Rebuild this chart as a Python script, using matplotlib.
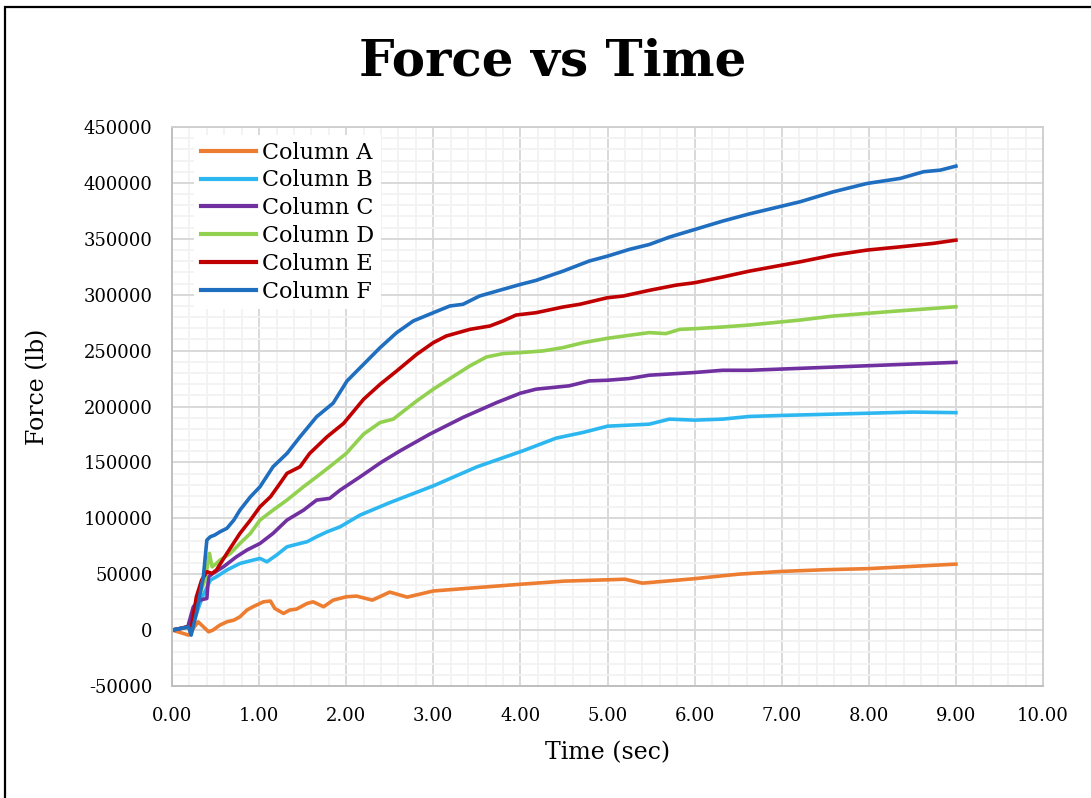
import matplotlib
matplotlib.use("Agg")
import matplotlib.pyplot as plt
from matplotlib.patches import Rectangle
from matplotlib.ticker import MultipleLocator, FormatStrFormatter

plt.rcParams['font.family'] = ['DejaVu Serif']
plt.rcParams['axes.unicode_minus'] = False

# values (time in s, force in lb)
t_a = [0, 0.13, 0.19, 0.23, 0.30, 0.36, 0.42, 0.47, 0.55, 0.63, 0.71, 0.78, 0.86, 0.93, 1.05, 1.13,
       1.18, 1.28, 1.35, 1.43, 1.55, 1.62, 1.74, 1.85, 2.00, 2.12, 2.30, 2.50, 2.70, 3.00, 3.50,
       4.00, 4.50, 5.00, 5.20, 5.40, 5.70, 6.00, 6.50, 7.00, 7.50, 8.00, 8.50, 9.00]
f_a = [0, -3000, -4500, 0, 7400, 3000, -1500, 0, 4500, 7400, 8900, 11900, 17900, 20900, 25300, 26000,
       19400, 14900, 17900, 18800, 23800, 25300, 20900, 26800, 29800, 30400, 26800, 34000, 29500, 35000, 38000,
       41000, 43800, 45000, 45500, 42000, 44000, 46000, 50000, 52500, 54000, 55000, 57000, 59000]

t_b = [0, 0.10, 0.18, 0.25, 0.35, 0.44, 0.51, 0.63, 0.78, 0.93, 1.01, 1.09, 1.20, 1.32, 1.47, 1.55,
       1.66, 1.78, 1.93, 2.16, 2.50, 3.00, 3.50, 4.03, 4.41, 4.72, 5.00, 5.48, 5.71, 6.00, 6.32,
       6.63, 7.00, 7.50, 8.00, 8.50, 9.00]
f_b = [0, 1500, 2500, 8000, 30000, 44700, 47700, 53700, 59600, 62600, 64100, 61100, 67100, 74500, 77500, 79000,
       83500, 87900, 92400, 102900, 114000, 129000, 146000, 160400, 171700, 176800, 182400, 184200, 188700, 187800, 188700,
       191100, 192000, 193000, 194000, 195000, 194500]

t_c = [0, 0.10, 0.18, 0.245, 0.32, 0.40, 0.42, 0.47, 0.59, 0.74, 0.86, 1.01, 1.16, 1.32, 1.51, 1.66,
       1.81, 1.93, 2.16, 2.40, 2.62, 2.96, 3.34, 3.73, 4.00, 4.18, 4.56, 4.79, 5.00, 5.25, 5.48,
       6.00, 6.32, 6.63, 7.00, 7.50, 8.00, 8.50, 9.00]
f_c = [0, 1500, 2500, 20900, 26800, 28300, 47700, 50700, 56600, 65600, 71600, 77500, 86500, 98400, 107300, 116300,
       117800, 125200, 137100, 150000, 160400, 175300, 190200, 203600, 211900, 215500, 218500, 222900, 223500, 225000, 228000,
       230400, 232400, 232400, 233500, 235000, 236500, 238000, 239500]

t_d = [0, 0.10, 0.18, 0.23, 0.32, 0.38, 0.43, 0.46, 0.51, 0.55, 0.67, 0.78, 0.90, 1.01, 1.16, 1.32,
       1.51, 1.66, 1.81, 2.00, 2.20, 2.39, 2.54, 2.81, 3.00, 3.27, 3.42, 3.61, 3.80, 4.00, 4.26,
       4.49, 4.72, 5.00, 5.25, 5.48, 5.67, 5.83, 6.00, 6.32, 6.63, 7.21, 7.59, 7.98, 8.36, 9.00]
f_d = [0, 1500, 2500, 0, 32800, 45000, 68600, 56600, 59600, 62600, 68600, 77500, 86500, 98400, 107300, 116300,
       128200, 137100, 146100, 158000, 175300, 185700, 188700, 205000, 215500, 228900, 236300, 244300, 247300, 248200, 249700,
       252700, 257100, 261000, 263700, 266100, 265200, 269000, 269600, 271100, 272900, 277300, 280900, 283300, 285600, 289200]

t_e = [0, 0.10, 0.17, 0.22, 0.28, 0.34, 0.40, 0.46, 0.51, 0.63, 0.78, 0.90, 1.01, 1.13, 1.24, 1.32,
       1.47, 1.58, 1.78, 1.97, 2.20, 2.39, 2.58, 2.81, 3.00, 3.15, 3.42, 3.65, 3.80, 3.95, 4.18,
       4.49, 4.68, 5.00, 5.18, 5.48, 5.79, 6.00, 6.32, 6.63, 7.21, 7.59, 7.98, 8.36, 8.74, 9.00]
f_e = [0, 1500, 3000, 1000, 29800, 44700, 52200, 50700, 53700, 68600, 86500, 98400, 110300, 119200, 131200, 140200,
       146100, 158000, 172900, 184900, 206500, 219900, 231800, 246700, 257100, 263100, 269000, 272000, 276500, 281800, 283900,
       289000, 291400, 297300, 298800, 303900, 308600, 310700, 315800, 321100, 329400, 335400, 339900, 342800, 345900, 348800]

t_f = [0, 0.10, 0.19, 0.22, 0.28, 0.36, 0.40, 0.44, 0.49, 0.55, 0.63, 0.71, 0.78, 0.90, 1.01, 1.16,
       1.32, 1.47, 1.66, 1.85, 2.01, 2.20, 2.39, 2.58, 2.77, 3.00, 3.19, 3.34, 3.53, 3.80, 4.00,
       4.18, 4.49, 4.79, 5.00, 5.25, 5.48, 5.71, 6.00, 6.32, 6.63, 7.21, 7.59, 7.98, 8.36, 8.63,
       8.82, 9.00]
f_f = [0, 1500, 3000, -4500, 14900, 47700, 80500, 83500, 85000, 87900, 91000, 98400, 107300, 119200, 128200, 146100,
       158000, 172900, 190800, 203000, 222900, 237800, 252700, 266100, 276500, 283900, 289900, 291400, 298800, 304800, 309200,
       312800, 321100, 330100, 334500, 340500, 344900, 351500, 358300, 365800, 372300, 383100, 392000, 399500, 404000, 410000,
       411400, 415000]

labels = ["Column A", "Column B", "Column C", "Column D", "Column E", "Column F"]
colors = ["#ED7D31", "#2DB7F0", "#7030A0", "#92D050", "#C00000", "#1F6EC0"]
series = [(t_a, f_a), (t_b, f_b), (t_c, f_c), (t_d, f_d), (t_e, f_e), (t_f, f_f)]

fig = plt.figure(figsize=(10.91, 7.98), dpi=100)
ax = fig.add_axes([172 / 1091, 1 - 686 / 798, 871 / 1091, 559 / 798])

for (t, f), lab, c in zip(series, labels, colors):
    ax.plot(t, f, color=c, lw=2.6, label=lab, solid_joinstyle='round')

ax.set_xlim(0, 10)
ax.set_ylim(-50000, 450000)
ax.xaxis.set_major_locator(MultipleLocator(1))
ax.xaxis.set_minor_locator(MultipleLocator(0.2))
ax.yaxis.set_major_locator(MultipleLocator(50000))
ax.yaxis.set_minor_locator(MultipleLocator(10000))
ax.xaxis.set_major_formatter(FormatStrFormatter('%.2f'))
ax.grid(which='minor', color='#f2f2f2', lw=1.3)
ax.grid(which='major', color='#d9d9d9', lw=1.4)
ax.set_axisbelow(True)
ax.tick_params(which='both', length=0, labelsize=13)
ax.tick_params(axis='x', pad=15)
ax.tick_params(axis='y', pad=14)
for s in ax.spines.values():
    s.set_color('#d0d0d0')
    s.set_linewidth(1.4)
ax.spines['left'].set_color('#bfbfbf')
ax.spines['bottom'].set_color('#bfbfbf')

ax.set_xlabel('Time (sec)', fontsize=17)
ax.set_ylabel('Force (lb)', fontsize=17)
ax.xaxis.label.set_va('center')
ax.yaxis.label.set_va('center')
ax.xaxis.set_label_coords((608 - 172) / 871, -(753 - 686) / 559)
ax.yaxis.set_label_coords((38 - 172) / 871, (686 - 387) / 559)

leg = ax.legend(loc='upper left', bbox_to_anchor=(22 / 871, 1 - 8 / 559), fontsize=16,
                handlelength=2.5, handletextpad=0.25, labelspacing=0.26,
                borderaxespad=0, borderpad=0.3, fancybox=False, framealpha=1,
                edgecolor='none', facecolor='white')
for ln in leg.get_lines():
    ln.set_linewidth(3)

fig.text(553 / 1091, 1 - 62 / 798, 'Force vs Time', ha='center', va='center',
         fontsize=36, fontweight='bold')

# chart border (cut off at the right and bottom in the original)
fig.patches.append(Rectangle((5 / 1091, -0.05), 1.1, 1 - 7 / 798 + 0.05, transform=fig.transFigure,
                             fill=False, edgecolor='black', lw=1.6))

fig.savefig('out.png', dpi=100)
